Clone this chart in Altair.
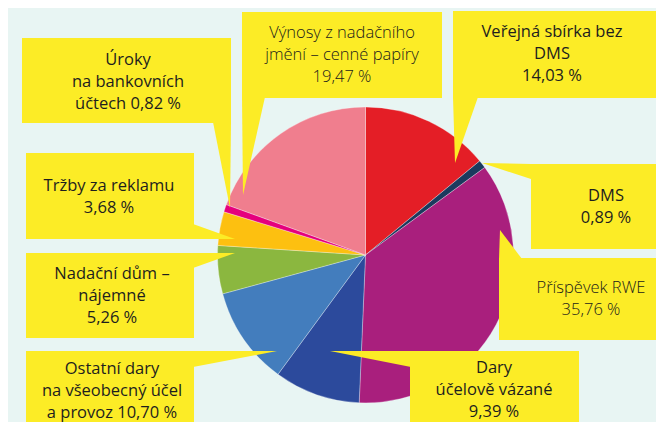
import altair as alt
import pandas as pd

# ---------------- data ----------------
categories = [
    "Veřejná sbírka bez DMS",
    "DMS",
    "Příspěvek RWE",
    "Dary účelově vázané",
    "Ostatní dary na všeobecný účel a provoz",
    "Nadační dům – nájemné",
    "Tržby za reklamu",
    "Úroky na bankovních účtech",
    "Výnosy z nadačního jmění – cenné papíry",
]
shares = [14.03, 0.89, 35.76, 9.39, 10.70, 5.26, 3.68, 0.82, 19.47]
colors = ["#e41e26", "#1b3a5e", "#a91f7d", "#2c4a9c", "#437dbd",
          "#8bb73f", "#fdc010", "#e5007d", "#f07e8e"]
# label text lines (value appended to the last line or as own line)
label_head = [
    ["Veřejná sbírka bez", "DMS"],
    ["DMS"],
    ["Příspěvek RWE"],
    ["Dary", "účelově vázané"],
    ["Ostatní dary", "na všeobecný účel", "a provoz"],
    ["Nadační dům –", "nájemné"],
    ["Tržby za reklamu"],
    ["Úroky", "na bankovních", "účtech"],
    ["Výnosy z nadačního", "jmění – cenné papíry"],
]
value_inline = [False, False, False, False, True, False, False, True, False]
light_text = [False, False, True, False, False, False, False, False, True]

# ---------------- layout (reference pixel coords) ----------------
CX, CY, R = 365.5, 255, 148
boxes = [(453, 656, 11, 98), (531, 670, 164, 249), (499, 670, 258, 340),
         (410, 579, 351, 440), (26, 194, 351, 440), (26, 194, 253, 338),
         (26, 194, 153, 239), (22, 231, 38, 123), (242, 442, 12, 98)]
# position of the first line of each label (centre x, middle of first line y)
label_pos = [(552, 32), (606, 196), (591, 288), (494, 368), (112, 369),
             (112, 274), (109, 186), (128, 60), (342, 33)]
# pointers: vertical-oriented (x, y, y2) and horizontal-oriented (y, x, x2)
ptr_v = {
    "DMS": [(482, 163, 163), (531, 164, 179)],
    "Dary": [(330, 351, 351), (411, 351, 367)],
    "Ostatni": [(193, 351, 367), (277, 351, 351)],
    "Nadacni": [(193, 253, 268), (235, 253, 253)],
    "Trzby": [(193, 224, 239), (235, 239, 239)],
}
ptr_h = {
    "Verejna": [(97, 453, 478), (163, 455, 455)],
    "RWE": [(230, 500, 500), (259, 499, 522)],
    "Uroky": [(122, 213, 231), (208, 230, 230)],
    "Vynosy": [(97, 242, 265), (195, 243, 243)],
}

YELLOW = "#fcec26"
BG = "#e8f5f3"
W, H = 648, 414

def fmt(v):
    return f"{v:.2f}".replace(".", ",") + " %"

pie_df = pd.DataFrame({"cat": categories, "share": shares,
                       "idx": list(range(len(categories)))})

lab_rows = []
for i, cat in enumerate(categories):
    lines = list(label_head[i])
    if value_inline[i]:
        lines[-1] = lines[-1] + " " + fmt(shares[i])
    else:
        lines.append(fmt(shares[i]))
    lab_rows.append({"x": label_pos[i][0], "y": label_pos[i][1],
                     "text": "\n".join(lines), "light": light_text[i]})
lab_df = pd.DataFrame(lab_rows)

box_df = pd.DataFrame([{"x": b[0], "x2": b[1], "y": b[2], "y2": b[3]} for b in boxes])
pv_df = pd.DataFrame([{"id": k, "x": p[0], "y": p[1], "y2": p[2]}
                      for k, v in ptr_v.items() for p in v])
ph_df = pd.DataFrame([{"id": k, "y": p[0], "x": p[1], "x2": p[2]}
                      for k, v in ptr_h.items() for p in v])

xs = alt.Scale(domain=[8, 8 + W], nice=False, zero=False)
ys = alt.Scale(domain=[8, 8 + H], nice=False, zero=False, reverse=True)

pie = alt.Chart(pie_df).mark_arc(outerRadius=R, stroke="#ffffff",
                                 strokeWidth=0.6, strokeOpacity=0.5).encode(
    theta=alt.Theta("share:Q", stack=True),
    order=alt.Order("idx:Q"),
    color=alt.Color("cat:N", scale=alt.Scale(domain=categories, range=colors), legend=None),
    x=alt.value(CX - 8),
    y=alt.value(CY - 8),
)

box = alt.Chart(box_df).mark_rect(color=YELLOW).encode(
    x=alt.X("x:Q", scale=xs, axis=None), x2="x2:Q",
    y=alt.Y("y:Q", scale=ys, axis=None), y2="y2:Q",
)

pv = alt.Chart(pv_df).mark_area(color=YELLOW, orient="vertical").encode(
    x=alt.X("x:Q", scale=xs, axis=None),
    y=alt.Y("y:Q", scale=ys, axis=None), y2="y2:Q",
    detail="id:N",
)

ph = alt.Chart(ph_df).mark_area(color=YELLOW, orient="horizontal").encode(
    y=alt.Y("y:Q", scale=ys, axis=None),
    x=alt.X("x:Q", scale=xs, axis=None), x2="x2:Q",
    detail="id:N",
)

txt_dark = alt.Chart(lab_df).transform_filter("!datum.light").mark_text(
    font="Open Sans", fontSize=16.5, lineHeight=22, lineBreak="\n",
    align="center", baseline="middle", color="#1e1e1e",
).encode(
    x=alt.X("x:Q", scale=xs, axis=None),
    y=alt.Y("y:Q", scale=ys, axis=None),
    text="text:N",
)

txt_light = alt.Chart(lab_df).transform_filter("datum.light").mark_text(
    font="Open Sans", fontSize=16.5, lineHeight=22, lineBreak="\n",
    align="center", baseline="middle", color="#1a1a1a", fontWeight=300,
).encode(
    x=alt.X("x:Q", scale=xs, axis=None),
    y=alt.Y("y:Q", scale=ys, axis=None),
    text="text:N",
)

chart = alt.layer(pie, box, pv, ph, txt_dark, txt_light).properties(
    width=W, height=H, autosize="none", padding=0,
).configure(background=BG).configure_view(stroke=None)

chart.save("out.html", embed_options={"renderer": "svg", "actions": False})
